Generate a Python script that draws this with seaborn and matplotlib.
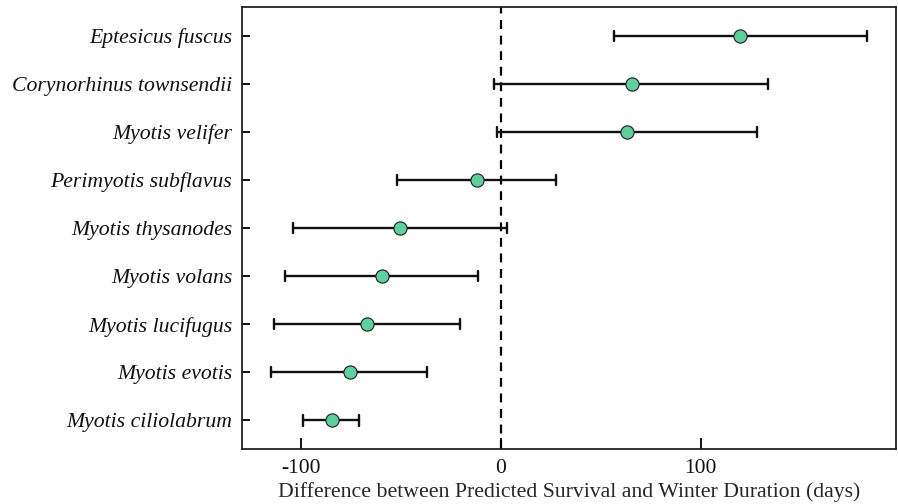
import numpy as np
import pandas as pd
import seaborn as sns
import matplotlib
matplotlib.use("Agg")
import matplotlib.pyplot as plt

species = [
    "Eptesicus fuscus",
    "Corynorhinus townsendii",
    "Myotis velifer",
    "Perimyotis subflavus",
    "Myotis thysanodes",
    "Myotis volans",
    "Myotis lucifugus",
    "Myotis evotis",
    "Myotis ciliolabrum",
]
estimate = [119.6, 65.5, 63.0, -12.1, -50.2, -59.4, -66.8, -75.5, -84.6]
lower = [56.4, -3.2, -2.1, -51.7, -103.8, -108.0, -113.2, -114.7, -99.0]
upper = [183.0, 133.8, 128.3, 27.4, 3.0, -11.3, -20.4, -37.0, -70.8]
xticks = [-100, 0, 100]

# long form: lower / estimate / upper per species, point = median, bar = min..max
df = pd.DataFrame({
    "species": np.repeat(species, 3),
    "days": np.ravel(np.column_stack([lower, estimate, upper])),
})

sns.set_style("ticks")
plt.rcParams["font.family"] = ["Liberation Serif", "DejaVu Serif"]

fig = plt.figure(figsize=(8.98, 5.04), dpi=100)
ax = fig.add_axes([0.2695, 0.109, 0.7285, 0.877])

ax.axvline(0, color="black", linestyle="--", linewidth=1.6, dashes=(4, 3), zorder=1)

sns.pointplot(
    data=df,
    x="days",
    y="species",
    order=species,
    orient="h",
    estimator=np.median,
    errorbar=lambda v: (v.min(), v.max()),
    capsize=0.22,
    linestyle="none",
    marker="o",
    markersize=9.5,
    markeredgecolor="#1a1a1a",
    markeredgewidth=0.8,
    color="#5FCFA0",
    err_kws={"color": "#111111", "linewidth": 1.7, "zorder": 2},
    ax=ax,
)
for line in ax.lines[1:]:
    if line.get_marker() == "o":
        line.set_zorder(3)

ax.set_xlim(-129.4, 197.7)
ax.set_ylim(8.6, -0.6)
ax.set_xticks(xticks)
ax.set_xticklabels([str(t) for t in xticks])
ax.set_xlabel("Difference between Predicted Survival and Winter Duration (days)",
              fontsize=15.7, labelpad=3)
ax.set_ylabel("")

for side in ["top", "right", "bottom", "left"]:
    ax.spines[side].set_visible(True)
    ax.spines[side].set_linewidth(1.3)
    ax.spines[side].set_color("#222222")

ax.tick_params(axis="x", direction="in", length=8, width=1.4, pad=7,
               labelsize=15.5, colors="#111111")
ax.tick_params(axis="y", direction="in", length=6, width=1.4, pad=7,
               labelsize=15.7, colors="#111111")
for lab in ax.get_yticklabels():
    lab.set_fontstyle("italic")

fig.savefig("out.png", dpi=100)
